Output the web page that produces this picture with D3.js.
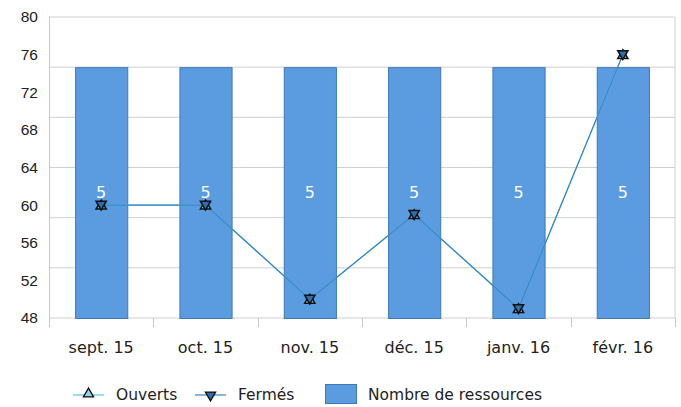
<!DOCTYPE html>
<html>
<head>
<meta charset="utf-8">
<script src="https://cdn.jsdelivr.net/npm/d3@7"></script>
<style>
  body { margin: 0; background: #fff; }
  svg { font-family: "DejaVu Sans", Verdana, sans-serif; }
</style>
</head>
<body>
<svg id="chart" width="681" height="407"></svg>
<script>
// Chart data
const months = ["sept. 15", "oct. 15", "nov. 15", "déc. 15", "janv. 16", "févr. 16"];
const ouverts = [60, 60, 50, 59, 49, 76];
const fermes = [60, 60, 50, 59, 49, 76];
const ressources = [5, 5, 5, 5, 5, 5];
const leftTicks = [48, 52, 56, 60, 64, 68, 72, 76, 80];

const margin = { top: 17, right: 6, bottom: 89, left: 49 };
const W = 681, H = 407;

const svg = d3.select("#chart");

const x = d3.scaleBand()
    .domain(months)
    .range([margin.left, W - margin.right])
    .padding(0);

const y = d3.scaleLinear()
    .domain([48, 80])
    .range([H - margin.bottom, margin.top]);

// secondary scale for the bars (hidden axis)
const y2 = d3.scaleLinear()
    .domain([0, 6])
    .range([H - margin.bottom, margin.top]);

// Gridlines from the bar axis
svg.append("g")
    .selectAll("line")
    .data(d3.range(0, 7))
    .enter().append("line")
    .attr("x1", margin.left)
    .attr("x2", W - margin.right)
    .attr("y1", d => y2(d))
    .attr("y2", d => y2(d))
    .attr("stroke", "#d0d0d0")
    .attr("stroke-width", 1);

// right border
svg.append("line")
    .attr("x1", W - margin.right).attr("x2", W - margin.right)
    .attr("y1", margin.top).attr("y2", H - margin.bottom)
    .attr("stroke", "#d0d0d0");

// Bars
const barW = x.bandwidth() * 0.5;
svg.selectAll(".bar")
    .data(ressources)
    .enter().append("rect")
    .attr("x", (d, i) => x(months[i]) + (x.bandwidth() - barW) / 2 + 0.5)
    .attr("y", d => y2(d) + 0.5)
    .attr("width", barW)
    .attr("height", d => y2(0) - y2(d))
    .attr("fill", "#5b9be0")
    .attr("stroke", "#3f79b8")
    .attr("stroke-width", 1);

// Bar labels
svg.selectAll(".blabel")
    .data(ressources)
    .enter().append("text")
    .attr("x", (d, i) => x(months[i]) + x.bandwidth() / 2)
    .attr("y", d => (y2(d) + y2(0)) / 2)
    .attr("dy", "0.35em")
    .attr("text-anchor", "middle")
    .attr("fill", "#fff")
    .style("font-size", "16px")
    .text(d => d);

// Left axis
const yAxis = svg.append("g")
    .attr("transform", `translate(${margin.left},0)`)
    .call(d3.axisLeft(y).tickValues(leftTicks).tickSize(0).tickPadding(11));
yAxis.select(".domain").remove();
yAxis.selectAll("text").style("font-size", "15.5px").attr("fill", "#222");
svg.append("line")
    .attr("x1", margin.left + 0.5).attr("x2", margin.left + 0.5)
    .attr("y1", margin.top).attr("y2", H - margin.bottom + 9)
    .attr("stroke", "#c8c8c8");

// Bottom axis: ticks at band boundaries
svg.append("g")
    .selectAll("line")
    .data(months.slice(1))
    .enter().append("line")
    .attr("x1", d => Math.round(x(d)) + 0.5)
    .attr("x2", d => Math.round(x(d)) + 0.5)
    .attr("y1", H - margin.bottom)
    .attr("y2", H - margin.bottom + 9)
    .attr("stroke", "#c8c8c8");
svg.append("line")
    .attr("x1", W - margin.right + 0.5).attr("x2", W - margin.right + 0.5)
    .attr("y1", H - margin.bottom).attr("y2", H - margin.bottom + 9)
    .attr("stroke", "#c8c8c8");

svg.append("g")
    .selectAll("text")
    .data(months)
    .enter().append("text")
    .attr("x", d => x(d) + x.bandwidth() / 2)
    .attr("y", H - margin.bottom + 35)
    .attr("text-anchor", "middle")
    .attr("fill", "#222")
    .style("font-size", "16px")
    .text(d => d);

// Lines
const line = d3.line()
    .x((d, i) => x(months[i]) + x.bandwidth() / 2)
    .y(d => y(d));

svg.append("path")
    .datum(ouverts)
    .attr("d", line)
    .attr("fill", "none")
    .attr("stroke", "#5bc4e6")
    .attr("stroke-width", 1.2);

svg.append("path")
    .datum(fermes)
    .attr("d", line)
    .attr("fill", "none")
    .attr("stroke", "#3a84c0")
    .attr("stroke-width", 1.2);

const triUp = d3.symbol().type(d3.symbolTriangle).size(45);

svg.selectAll(".mUp")
    .data(ouverts)
    .enter().append("path")
    .attr("d", triUp)
    .attr("transform", (d, i) => `translate(${x(months[i]) + x.bandwidth() / 2},${y(d) + 1})`)
    .attr("fill", "#8fd6f0")
    .attr("stroke", "#111")
    .attr("stroke-width", 1.5);

svg.selectAll(".mDown")
    .data(fermes)
    .enter().append("path")
    .attr("d", triUp)
    .attr("transform", (d, i) => `translate(${x(months[i]) + x.bandwidth() / 2},${y(d) - 1}) rotate(180)`)
    .attr("fill", "#2f6fb0")
    .attr("stroke", "#111")
    .attr("stroke-width", 1.5);

// Legend
const legY = 395;
const leg = svg.append("g");

leg.append("line").attr("x1", 73).attr("x2", 104).attr("y1", legY).attr("y2", legY)
    .attr("stroke", "#5bc4e6").attr("stroke-width", 1.2);
leg.append("path").attr("d", triUp)
    .attr("transform", `translate(88.5,${legY - 1})`)
    .attr("fill", "#8fd6f0").attr("stroke", "#111").attr("stroke-width", 1.3);
leg.append("text").attr("x", 116).attr("y", legY).attr("dy", "0.35em")
    .style("font-size", "15.5px").attr("fill", "#222").text("Ouverts");

leg.append("line").attr("x1", 195).attr("x2", 226).attr("y1", legY).attr("y2", legY)
    .attr("stroke", "#3a84c0").attr("stroke-width", 1.2);
leg.append("path").attr("d", triUp)
    .attr("transform", `translate(210.5,${legY}) rotate(180)`)
    .attr("fill", "#2f6fb0").attr("stroke", "#111").attr("stroke-width", 1.3);
leg.append("text").attr("x", 238).attr("y", legY).attr("dy", "0.35em")
    .style("font-size", "15.5px").attr("fill", "#222").text("Fermés");

leg.append("rect").attr("x", 325.5).attr("y", 384.5).attr("width", 31).attr("height", 19)
    .attr("fill", "#5b9be0").attr("stroke", "#3f79b8");
leg.append("text").attr("x", 368).attr("y", legY).attr("dy", "0.35em")
    .style("font-size", "15.5px").attr("fill", "#222").text("Nombre de ressources");
</script>
</body>
</html>
